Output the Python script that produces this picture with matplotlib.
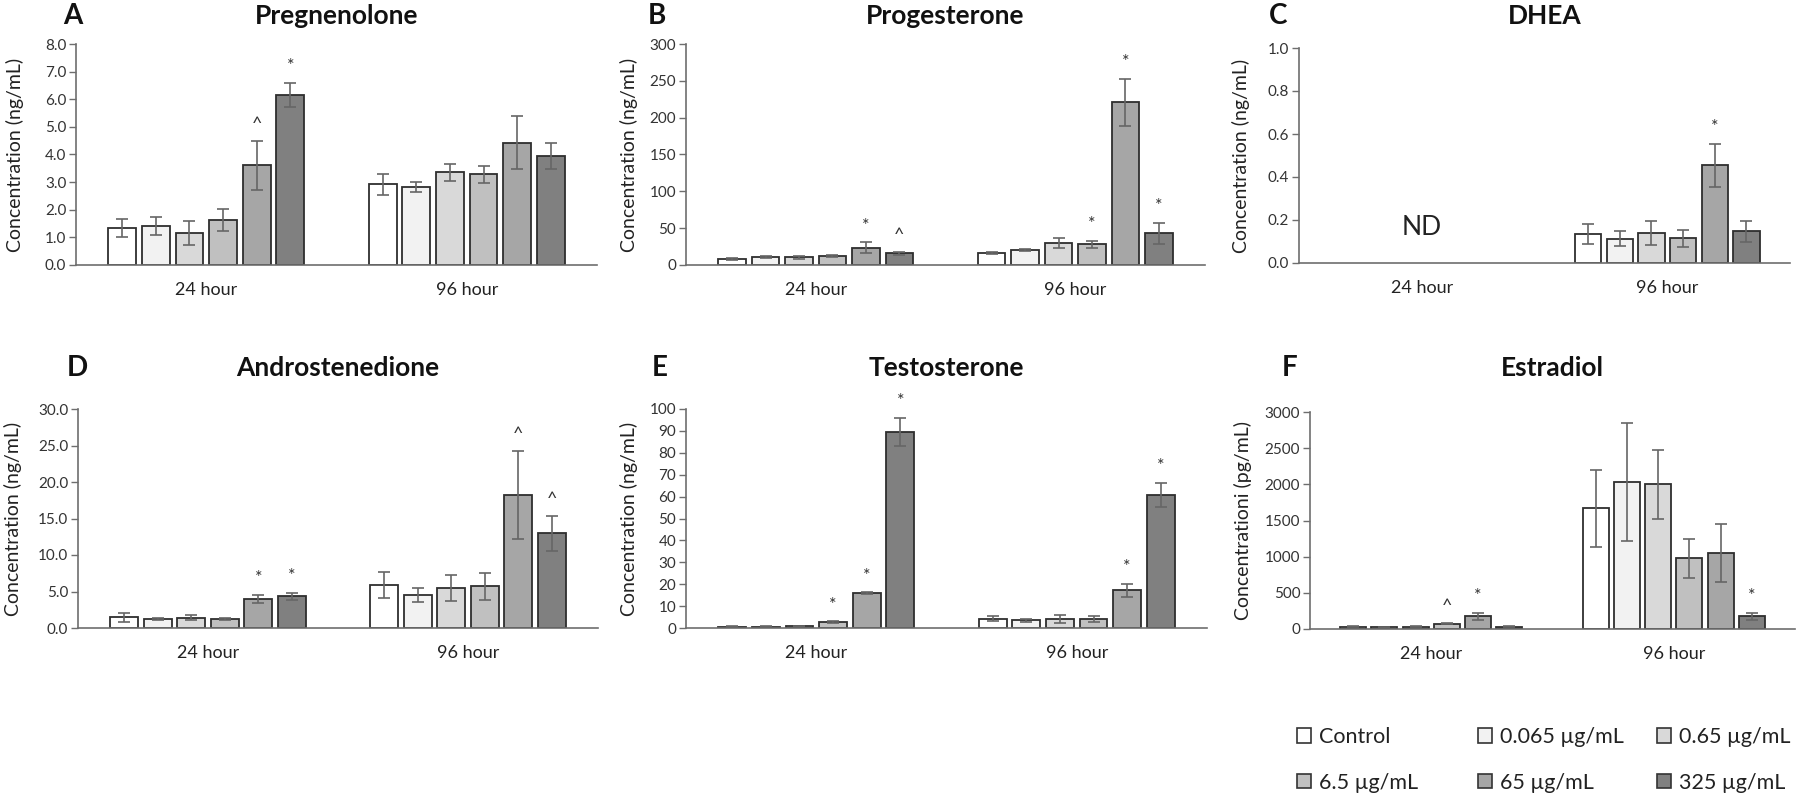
import numpy as np
import matplotlib.pyplot as plt
from matplotlib.patches import Patch

plt.rcParams['font.family'] = ['Lato', 'DejaVu Sans']

groups = ['24 hour', '96 hour']
doses = ['Control', '0.065 µg/mL', '0.65 µg/mL', '6.5 µg/mL', '65 µg/mL', '325 µg/mL']
colors = ['#ffffff', '#f2f2f2', '#d9d9d9', '#c0c0c0', '#a6a6a6', '#808080']

# A - Pregnenolone (ng/mL)
preg_24 = [1.35, 1.41, 1.16, 1.64, 3.61, 6.15]
preg_24_err = [0.33, 0.33, 0.44, 0.40, 0.89, 0.44]
preg_96 = [2.92, 2.82, 3.35, 3.29, 4.43, 3.96]
preg_96_err = [0.38, 0.18, 0.30, 0.31, 0.95, 0.47]
preg_24_sig = ['', '', '', '', '^', '*']
preg_96_sig = ['', '', '', '', '', '']

# B - Progesterone (ng/mL)
prog_24 = [7.7, 10.4, 10.4, 12.2, 23.6, 15.9]
prog_24_err = [1.5, 1.5, 2.0, 2.0, 7.0, 2.0]
prog_96 = [15.9, 20.4, 29.5, 28.1, 220.7, 43.0]
prog_96_err = [1.5, 1.5, 6.5, 4.5, 32.0, 14.0]
prog_24_sig = ['', '', '', '', '*', '^']
prog_96_sig = ['', '', '', '*', '*', '*']

# C - DHEA (ng/mL), not detected at 24 hour
dhea_24 = [np.nan] * 6
dhea_24_err = [np.nan] * 6
dhea_96 = [0.135, 0.113, 0.141, 0.115, 0.454, 0.147]
dhea_96_err = [0.048, 0.036, 0.056, 0.040, 0.10, 0.05]
dhea_24_sig = ['', '', '', '', '', '']
dhea_96_sig = ['', '', '', '', '*', '']

# D - Androstenedione (ng/mL)
andro_24 = [1.46, 1.23, 1.41, 1.19, 3.97, 4.33]
andro_24_err = [0.6, 0.2, 0.35, 0.15, 0.6, 0.45]
andro_96 = [5.93, 4.51, 5.52, 5.70, 18.24, 13.0]
andro_96_err = [1.8, 1.0, 1.8, 1.8, 6.0, 2.4]
andro_24_sig = ['', '', '', '', '*', '*']
andro_96_sig = ['', '', '', '', '^', '^']

# E - Testosterone (ng/mL)
testo_24 = [0.6, 0.6, 0.8, 2.7, 15.8, 89.5]
testo_24_err = [0.2, 0.2, 0.2, 0.4, 0.5, 6.5]
testo_96 = [4.26, 3.5, 4.1, 4.1, 17.2, 60.9]
testo_96_err = [1.2, 0.6, 1.8, 1.2, 2.9, 5.5]
testo_24_sig = ['', '', '', '*', '*', '*']
testo_96_sig = ['', '', '', '', '*', '*']

# F - Estradiol (pg/mL)
estra_24 = [32, 23, 32, 73, 175, 32]
estra_24_err = [10, 5, 10, 10, 45, 10]
estra_96 = [1667, 2035, 1998, 978, 1047, 175]
estra_96_err = [533, 817, 475, 267, 400, 45]
estra_24_sig = ['', '', '', '^', '*', '']
estra_96_sig = ['', '', '', '', '', '*']

W, H = 1800, 795
fig = plt.figure(figsize=(W / 100, H / 100), dpi=100)


def panel(rect, label_x, title_y, letter, letter_x, title, vals, errs, sigs,
          ymax, step, fmt, ylabel, nd=False):
    l, r, t, b = rect
    ax = fig.add_axes([l / W, 1 - b / H, (r - l) / W, (b - t) / H])
    spacing = 0.129
    width = 0.107
    for g in range(2):
        v = np.array(vals[g], dtype=float)
        e = np.array(errs[g], dtype=float)
        if np.all(np.isnan(v)):
            continue
        x = g + (np.arange(6) - 2.5) * spacing
        ax.bar(x, v, width, color=colors, edgecolor='#2e2e2e', linewidth=1.3, zorder=2)
        ax.errorbar(x, v, yerr=e, fmt='none', ecolor='#666666', elinewidth=1.2,
                    capsize=4, capthick=1.2, zorder=3)
        for xi, vi, ei, s in zip(x, v, e, sigs[g]):
            if s:
                ax.annotate(s, (xi, vi + ei), xytext=(0, 12), textcoords='offset points',
                            ha='center', va='center', fontsize=13, color='#333333')
    if nd:
        ax.text(0, ymax * 0.167, 'ND', ha='center', va='center', fontsize=19, color='#222222')
    ax.set_xlim(-0.5, 1.5)
    ax.set_ylim(0, ymax)
    ax.set_yticks(np.arange(0, ymax + step / 2, step))
    ax.yaxis.set_major_formatter(plt.FormatStrFormatter(fmt))
    ax.set_xticks([0, 1])
    ax.set_xticklabels(groups)
    ax.tick_params(axis='x', length=0, pad=12, labelsize=13, labelcolor='#222222')
    ax.tick_params(axis='y', length=5, width=1, color='#6e6e6e', pad=2,
                   labelsize=11, labelcolor='#333333')
    for sp in ['top', 'right']:
        ax.spines[sp].set_visible(False)
    for sp in ['left', 'bottom']:
        ax.spines[sp].set_color('#6e6e6e')
        ax.spines[sp].set_linewidth(1.2)
    ax.set_ylabel(ylabel, fontsize=14, color='#222222')
    ax.yaxis.set_label_coords((label_x - l) / (r - l), 0.5)
    ty = 1 - title_y / H
    fig.text((l + r) / 2 / W, ty, title, ha='center', va='center',
             fontsize=19, fontweight='bold', color='#111111')
    fig.text(letter_x / W, ty, letter, ha='center', va='center',
             fontsize=20, fontweight='bold', color='#111111')
    return ax


panel((76, 597, 44, 265), 24, 16, 'A', 73, 'Pregnenolone',
      [preg_24, preg_96], [preg_24_err, preg_96_err], [preg_24_sig, preg_96_sig],
      8, 1, '%.1f', 'Concentration (ng/mL)')
panel((686, 1205, 44, 265), 638, 16, 'B', 657, 'Progesterone',
      [prog_24, prog_96], [prog_24_err, prog_96_err], [prog_24_sig, prog_96_sig],
      300, 50, '%d', 'Concentration (ng/mL)')
panel((1299, 1790, 48, 263), 1250, 16, 'C', 1278, 'DHEA',
      [dhea_24, dhea_96], [dhea_24_err, dhea_96_err], [dhea_24_sig, dhea_96_sig],
      1.0, 0.2, '%.1f', 'Concentration (ng/mL)', nd=True)
panel((78, 598, 409, 628), 22, 368, 'D', 77, 'Androstenedione',
      [andro_24, andro_96], [andro_24_err, andro_96_err], [andro_24_sig, andro_96_sig],
      30, 5, '%.1f', 'Concentration (ng/mL)')
panel((686, 1207, 409, 628), 638, 368, 'E', 660, 'Testosterone',
      [testo_24, testo_96], [testo_24_err, testo_96_err], [testo_24_sig, testo_96_sig],
      100, 10, '%d', 'Concentration (ng/mL)')
panel((1310, 1795, 412, 629), 1252, 368, 'F', 1290, 'Estradiol',
      [estra_24, estra_96], [estra_24_err, estra_96_err], [estra_24_sig, estra_96_sig],
      3000, 500, '%d', 'Concentrationi (pg/mL)')

# legend: three columns, two rows
handles = [Patch(facecolor=c, edgecolor='#333333', linewidth=1.2) for c in colors]
col_x = [1297, 1478, 1657]
for k in range(3):
    idx = [k, k + 3]
    fig.legend([handles[i] for i in idx], [doses[i] for i in idx],
               loc='upper left', bbox_to_anchor=(col_x[k] / W, 1 - 727 / H),
               frameon=False, borderpad=0, borderaxespad=0, handlelength=0.65,
               handleheight=0.65, handletextpad=0.35, labelspacing=1.2,
               fontsize=15.5, labelcolor='#222222')

fig.savefig('out.png', dpi=100)
